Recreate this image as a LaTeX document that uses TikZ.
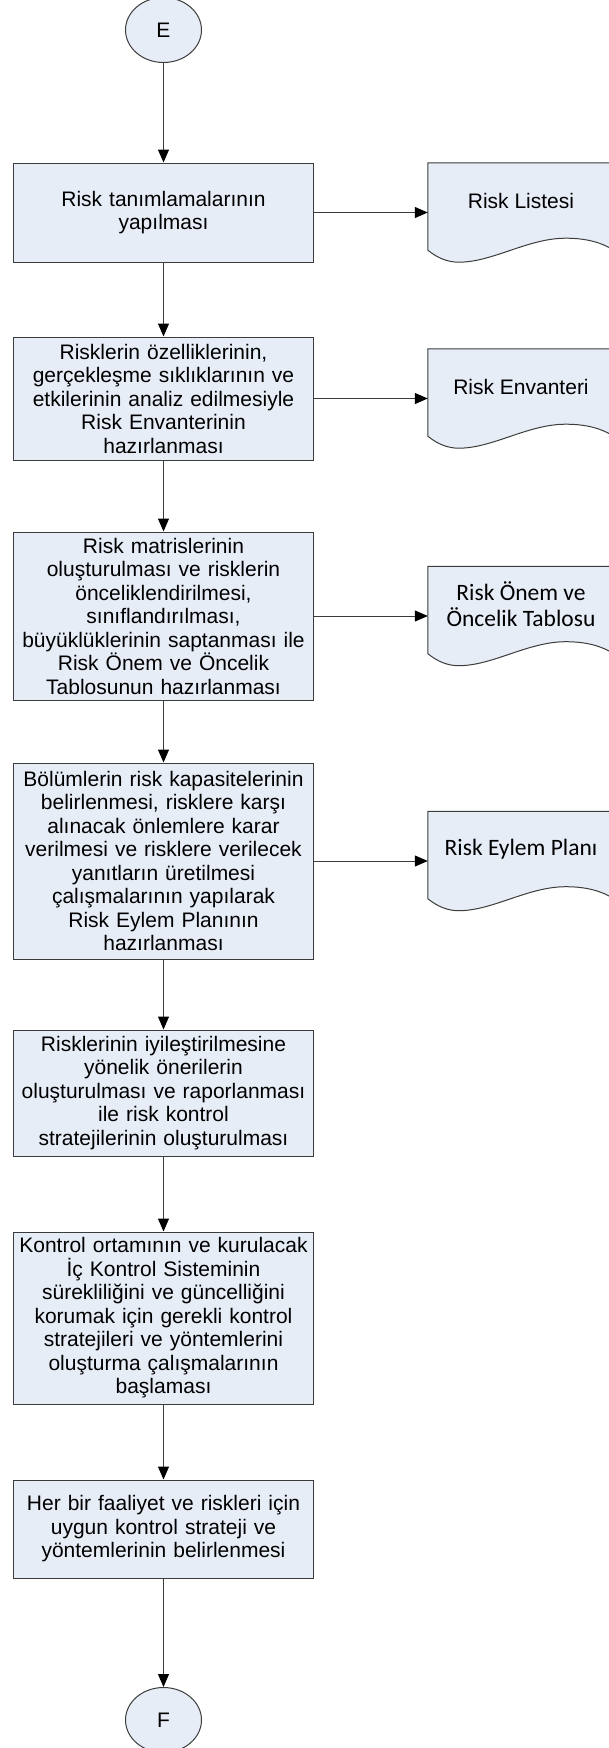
\documentclass[tikz,border=0pt]{standalone}
\usepackage{fontspec}
\setmainfont{Liberation Sans}
\newfontfamily\calibrifont{Carlito}
\usepackage{xcolor}
\usepackage{tikz}
\usetikzlibrary{calc,shapes.geometric,arrows.meta}
\definecolor{boxfill}{HTML}{E7EDF7}
\definecolor{edge}{HTML}{3C3C3C}
\newcommand{\boxfont}{\fontsize{21pt}{23.5pt}\selectfont}
\newcommand{\docfont}{\calibrifont\fontsize{23.5pt}{25.5pt}\selectfont}
\tikzset{
  procbox/.style={draw=edge, fill=boxfill, line width=1pt, minimum width=300pt, text width=296pt, align=center, inner sep=0pt, font=\boxfont},
  docframe/.style={minimum width=186pt, minimum height=99pt, inner sep=0pt},
  docline/.style={draw=edge, fill=boxfill, line width=1pt},
  doclab/.style={align=center, inner sep=0pt},
  pageref/.style={ellipse, draw=edge, fill=boxfill, line width=1pt, minimum width=76pt, minimum height=65pt, inner sep=0pt, font=\boxfont},
  flow/.style={draw=edge, line width=1pt, -{Triangle[length=13pt,width=11pt,black]}},
}
% document symbol round an empty frame node
\newcommand{\docoutline}[1]{%
  \draw[docline] (#1.north west) -- ($(#1.south west)+(0,-12)$)
    .. controls ($(#1.south west)+(10,-4)$) and ($(#1.south west)+(20,0)$) .. ($(#1.south west)+(31,0)$)
    .. controls ($(#1.south west)+(65,0)$) and ($(#1.south west)+(100,-24)$) .. ($(#1.south west)+(138,-24)$)
    .. controls ($(#1.south west)+(160,-24)$) and ($(#1.south west)+(175,-19)$) .. ($(#1.south west)+(186,-12)$)
    -- (#1.north east) -- cycle;}

\begin{document}
\begin{tikzpicture}[x=1pt,y=-1pt]
  \useasboundingbox (0,0) rectangle (609,1748);
  \clip (0,0) rectangle (609,1748);

  \node[pageref] (E) at (163.5,30) {E};

  \node[procbox, minimum height=99pt] (tanim) at (163.5,212.5)
    {Risk tanımlamalarının\\yapılması};
  \node[procbox, minimum height=123pt] (envanter) at (163.5,398.5)
    {Risklerin özelliklerinin,\\gerçekleşme sıklıklarının ve\\etkilerinin analiz edilmesiyle\\Risk Envanterinin\\hazırlanması};
  \node[procbox, minimum height=168pt] (matris) at (163.5,616)
    {Risk matrislerinin\\oluşturulması ve risklerin\\önceliklendirilmesi,\\sınıflandırılması,\\büyüklüklerinin saptanması ile\\Risk Önem ve Öncelik\\Tablosunun hazırlanması};
  \node[procbox, minimum height=196pt] (kapasite) at (163.5,861)
    {Bölümlerin risk kapasitelerinin\\belirlenmesi, risklere karşı\\alınacak önlemlere karar\\verilmesi ve risklere verilecek\\yanıtların üretilmesi\\çalışmalarının yapılarak\\Risk Eylem Planının\\hazırlanması};
  \node[procbox, minimum height=126pt] (iyilestirme) at (163.5,1093)
    {Risklerinin iyileştirilmesine\\yönelik önerilerin\\oluşturulması ve raporlanması\\ile risk kontrol\\stratejilerinin oluşturulması};
  \node[procbox, minimum height=172pt] (ortam) at (163.5,1318)
    {Kontrol ortamının ve kurulacak\\İç Kontrol Sisteminin\\sürekliliğini ve güncelliğini\\korumak için gerekli kontrol\\stratejileri ve yöntemlerini\\oluşturma çalışmalarının\\başlaması};
  \node[procbox, minimum height=98pt] (yontem) at (163.5,1529)
    {Her bir faaliyet ve riskleri için\\uygun kontrol strateji ve\\yöntemlerinin belirlenmesi};

  \node[pageref] (F) at (163.5,1720) {F};

  % output documents
  \node[docframe] (liste) at (521,212.5) {};
  \docoutline{liste}
  \node[doclab, font=\boxfont] (listetxt) at ([yshift=12pt]liste.center) {Risk Listesi};

  \node[docframe] (envdoc) at (521,398.5) {};
  \docoutline{envdoc}
  \node[doclab, font=\boxfont] (envtxt) at ([yshift=12pt]envdoc.center) {Risk Envanteri};

  \node[docframe] (onemdoc) at (521,616) {};
  \docoutline{onemdoc}
  \node[doclab, font=\docfont] (onemtxt) at ([yshift=12pt]onemdoc.center) {Risk Önem ve\\Öncelik Tablosu};

  \node[docframe] (eylemdoc) at (521,861) {};
  \docoutline{eylemdoc}
  \node[doclab, font=\docfont] (eylemtxt) at ([yshift=12pt]eylemdoc.center) {Risk Eylem Planı};

  \draw[flow] (E) -- (tanim);
  \draw[flow] (tanim) -- (envanter);
  \draw[flow] (envanter) -- (matris);
  \draw[flow] (matris) -- (kapasite);
  \draw[flow] (kapasite) -- (iyilestirme);
  \draw[flow] (iyilestirme) -- (ortam);
  \draw[flow] (ortam) -- (yontem);
  \draw[flow] (yontem) -- (F);

  \draw[flow] (tanim) -- (liste);
  \draw[flow] (envanter) -- (envdoc);
  \draw[flow] (matris) -- (onemdoc);
  \draw[flow] (kapasite) -- (eylemdoc);
\end{tikzpicture}
\end{document}
